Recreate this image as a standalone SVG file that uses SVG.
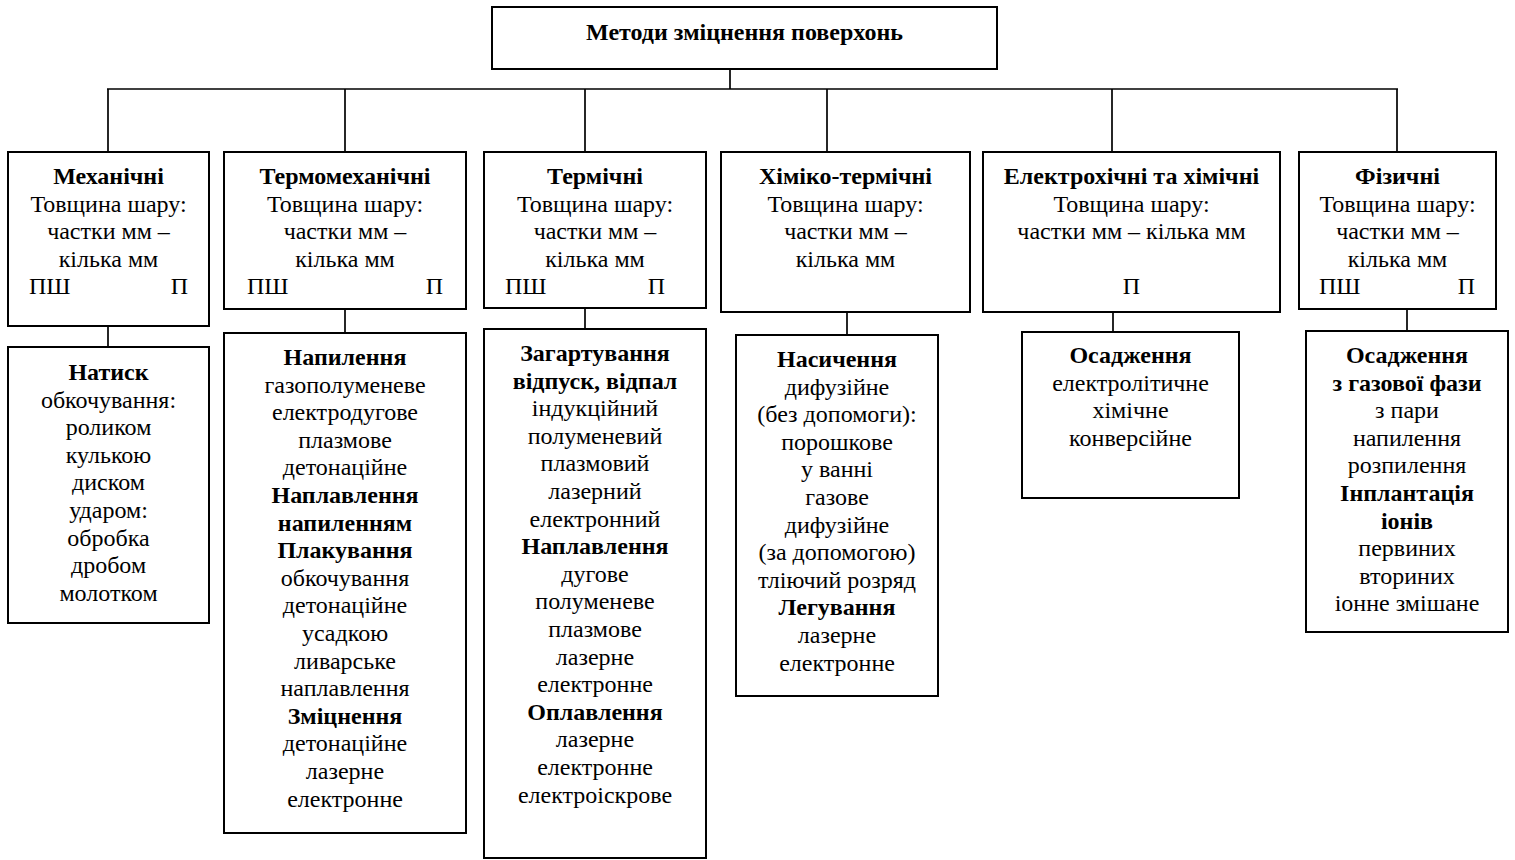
<svg xmlns="http://www.w3.org/2000/svg" width="1515" height="860" viewBox="0 0 1515 860">
<style>
rect{fill:#fff;stroke:#000;stroke-width:2}
.c line{stroke:#000;stroke-width:1.7}
text{font-family:"Liberation Serif","Times New Roman",serif;font-size:24px;fill:#000;text-anchor:middle}
.b{font-weight:bold}
.s{text-anchor:start}
.e{text-anchor:end}
</style>
<rect width="1515" height="860" style="stroke:none"/>
<g class="c" id="connectors">
<line x1="730" y1="69" x2="730" y2="89"/>
<line x1="107" y1="89" x2="1398" y2="89"/>
<line x1="108" y1="89" x2="108" y2="152"/>
<line x1="345" y1="89" x2="345" y2="152"/>
<line x1="585" y1="89" x2="585" y2="152"/>
<line x1="827" y1="89" x2="827" y2="152"/>
<line x1="1112" y1="89" x2="1112" y2="152"/>
<line x1="1397" y1="89" x2="1397" y2="152"/>
<line x1="108" y1="326" x2="108" y2="347"/>
<line x1="345" y1="309" x2="345" y2="333"/>
<line x1="585" y1="308" x2="585" y2="329"/>
<line x1="847" y1="312" x2="847" y2="335"/>
<line x1="1113" y1="312" x2="1113" y2="332"/>
<line x1="1407" y1="309" x2="1407" y2="331"/>
</g>
<g id="root">
<rect x="492" y="7" width="505" height="62"/>
<text class="b" x="744.5" y="40">Методи зміцнення поверхонь</text>
</g>
<g id="cat-mech">
<rect x="8" y="152" width="201" height="174"/>
<text class="b" x="108.5" y="184">Механічні</text>
<text x="108.5" y="211.6">Товщина шару:</text>
<text x="108.5" y="239.2">частки мм –</text>
<text x="108.5" y="266.8">кілька мм</text>
<text class="s" x="29" y="294.4">ПШ</text>
<text class="e" x="188" y="294.4">П</text>
</g>
<g id="cat-thermomech">
<rect x="224" y="152" width="242" height="157"/>
<text class="b" x="345" y="184">Термомеханічні</text>
<text x="345" y="211.6">Товщина шару:</text>
<text x="345" y="239.2">частки мм –</text>
<text x="345" y="266.8">кілька мм</text>
<text class="s" x="247" y="294.4">ПШ</text>
<text class="e" x="443" y="294.4">П</text>
</g>
<g id="cat-thermal">
<rect x="484" y="152" width="222" height="156"/>
<text class="b" x="595" y="184">Термічні</text>
<text x="595" y="211.6">Товщина шару:</text>
<text x="595" y="239.2">частки мм –</text>
<text x="595" y="266.8">кілька мм</text>
<text class="s" x="505" y="294.4">ПШ</text>
<text class="e" x="665" y="294.4">П</text>
</g>
<g id="cat-chemthermal">
<rect x="721" y="152" width="249" height="160"/>
<text class="b" x="845.5" y="184">Хіміко-термічні</text>
<text x="845.5" y="211.6">Товщина шару:</text>
<text x="845.5" y="239.2">частки мм –</text>
<text x="845.5" y="266.8">кілька мм</text>
</g>
<g id="cat-electrochem">
<rect x="983" y="152" width="297" height="160"/>
<text class="b" x="1131.5" y="184">Електрохічні та хімічні</text>
<text x="1131.5" y="211.6">Товщина шару:</text>
<text x="1131.5" y="239.2">частки мм – кілька мм</text>
<text x="1131.5" y="294.4">П</text>
</g>
<g id="cat-physical">
<rect x="1299" y="152" width="197" height="157"/>
<text class="b" x="1397.5" y="184">Фізичні</text>
<text x="1397.5" y="211.6">Товщина шару:</text>
<text x="1397.5" y="239.2">частки мм –</text>
<text x="1397.5" y="266.8">кілька мм</text>
<text class="s" x="1319" y="294.4">ПШ</text>
<text class="e" x="1475" y="294.4">П</text>
</g>
<g id="sub-mech">
<rect x="8" y="347" width="201" height="276"/>
<text class="b" x="108.5" y="380">Натиск</text>
<text x="108.5" y="407.6">обкочування:</text>
<text x="108.5" y="435.2">роликом</text>
<text x="108.5" y="462.8">кулькою</text>
<text x="108.5" y="490.4">диском</text>
<text x="108.5" y="518">ударом:</text>
<text x="108.5" y="545.6">обробка</text>
<text x="108.5" y="573.2">дробом</text>
<text x="108.5" y="600.8">молотком</text>
</g>
<g id="sub-thermomech">
<rect x="224" y="333" width="242" height="500"/>
<text class="b" x="345" y="365">Напилення</text>
<text x="345" y="392.6">газополуменеве</text>
<text x="345" y="420.2">електродугове</text>
<text x="345" y="447.8">плазмове</text>
<text x="345" y="475.4">детонаційне</text>
<text class="b" x="345" y="503">Наплавлення</text>
<text class="b" x="345" y="530.6">напиленням</text>
<text class="b" x="345" y="558.2">Плакування</text>
<text x="345" y="585.8">обкочування</text>
<text x="345" y="613.4">детонаційне</text>
<text x="345" y="641">усадкою</text>
<text x="345" y="668.6">ливарське</text>
<text x="345" y="696.2">наплавлення</text>
<text class="b" x="345" y="723.8">Зміцнення</text>
<text x="345" y="751.4">детонаційне</text>
<text x="345" y="779">лазерне</text>
<text x="345" y="806.6">електронне</text>
</g>
<g id="sub-thermal">
<rect x="484" y="329" width="222" height="529"/>
<text class="b" x="595" y="361">Загартування</text>
<text class="b" x="595" y="388.6">відпуск, відпал</text>
<text x="595" y="416.2">індукційний</text>
<text x="595" y="443.8">полуменевий</text>
<text x="595" y="471.4">плазмовий</text>
<text x="595" y="499">лазерний</text>
<text x="595" y="526.6">електронний</text>
<text class="b" x="595" y="554.2">Наплавлення</text>
<text x="595" y="581.8">дугове</text>
<text x="595" y="609.4">полуменеве</text>
<text x="595" y="637">плазмове</text>
<text x="595" y="664.6">лазерне</text>
<text x="595" y="692.2">електронне</text>
<text class="b" x="595" y="719.8">Оплавлення</text>
<text x="595" y="747.4">лазерне</text>
<text x="595" y="775">електронне</text>
<text x="595" y="802.6">електроіскрове</text>
</g>
<g id="sub-chemthermal">
<rect x="736" y="335" width="202" height="361"/>
<text class="b" x="837" y="367">Насичення</text>
<text x="837" y="394.6">дифузійне</text>
<text x="837" y="422.2">(без допомоги):</text>
<text x="837" y="449.8">порошкове</text>
<text x="837" y="477.4">у ванні</text>
<text x="837" y="505">газове</text>
<text x="837" y="532.6">дифузійне</text>
<text x="837" y="560.2">(за допомогою)</text>
<text x="837" y="587.8">тліючий розряд</text>
<text class="b" x="837" y="615.4">Легування</text>
<text x="837" y="643">лазерне</text>
<text x="837" y="670.6">електронне</text>
</g>
<g id="sub-electrochem">
<rect x="1022" y="332" width="217" height="166"/>
<text class="b" x="1130.5" y="363">Осадження</text>
<text x="1130.5" y="390.6">електролітичне</text>
<text x="1130.5" y="418.2">хімічне</text>
<text x="1130.5" y="445.8">конверсійне</text>
</g>
<g id="sub-physical">
<rect x="1306" y="331" width="202" height="301"/>
<text class="b" x="1407" y="363">Осадження</text>
<text class="b" x="1407" y="390.6">з газової фази</text>
<text x="1407" y="418.2">з пари</text>
<text x="1407" y="445.8">напилення</text>
<text x="1407" y="473.4">розпилення</text>
<text class="b" x="1407" y="501">Інплантація</text>
<text class="b" x="1407" y="528.6">іонів</text>
<text x="1407" y="556.2">первиних</text>
<text x="1407" y="583.8">вториних</text>
<text x="1407" y="611.4">іонне змішане</text>
</g>
</svg>
